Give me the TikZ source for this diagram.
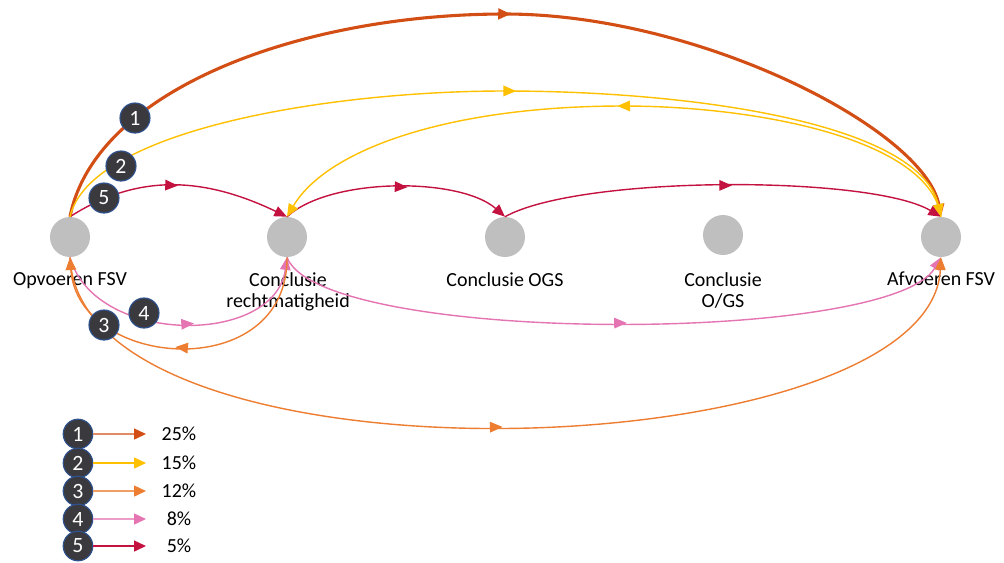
\documentclass[tikz,border=0pt]{standalone}
\usepackage{fontspec}
\setmainfont{Carlito}
\usetikzlibrary{
    arrows.meta,
    decorations.markings,
    positioning
}
\definecolor{stageGray}{RGB}{191, 191, 191}
\definecolor{badgeDark}{RGB}{58, 58, 62}
\definecolor{badgeBlue}{RGB}{47, 82, 143}
\definecolor{textBlack}{RGB}{0, 0, 0}
\definecolor{flowRust}{RGB}{210, 78, 20}
\definecolor{flowYellow}{RGB}{255, 192, 0}
\definecolor{flowOrange}{RGB}{237, 125, 49}
\definecolor{flowPink}{RGB}{228, 116, 178}
\definecolor{flowCrimson}{RGB}{196, 18, 64}
\tikzset{
    >={Triangle[length=9pt, width=7.5pt]},
    stage/.style={
        circle,
        fill=stageGray,
        minimum size=1cm,
        inner sep=0pt
    },
    stageText/.style={
        font=\fontsize{14.2}{15}\selectfont,
        text=textBlack,
        align=center,
        anchor=north,
        inner sep=0pt
    },
    badge/.style={
        circle,
        fill=badgeDark,
        draw=badgeBlue,
        line width=0.8pt,
        minimum size=0.75cm,
        inner sep=0pt,
        text=white,
        font=\fontsize{15.5}{16}\selectfont
    },
    keyText/.style={
        font=\fontsize{14.2}{15}\selectfont,
        text=textBlack,
        inner sep=0pt
    },
    flow/.style={
        line width=1pt,
        ->
    },
    keyLine/.style={
        line width=1pt
    },
    midtip/.style={
        postaction={decorate},
        decoration={markings, mark=at position #1 with {\arrow{>}}}
    }
}
\begin{document}
\begin{tikzpicture}[x=0.025cm, y=-0.025cm]
    \useasboundingbox (0,0) rectangle (1004,562);

    % Stages
    \node[stage] (opv) at (70,237) {};
    \node[stage] (recht) at (287,237) {};
    \node[stage] (ogs) at (505,237) {};
    \node[stage] (ogs2) at (723,235) {};
    \node[stage] (afv) at (941,237) {};

    \node[stageText] (opvText) at (70,272) {Opvoeren FSV};
    \node[stageText] (rechtText) at (288,272) {Conclusie\\rechtmatigheid};
    \node[stageText] (ogsText) at (505,272) {Conclusie OGS};
    \node[stageText] (ogs2Text) at (723,272) {Conclusie\\O/GS};
    \node[stageText] (afvText) at (941,272) {Afvoeren FSV};

    % Route 4 (below)
    \draw[flow, flowPink, midtip=0.55] (opv.south) .. controls (95,346) and (275,346) .. (recht.south);
    \draw[flow, flowPink, midtip=0.52] (recht.south) .. controls (320,345) and (890,345) .. (afv.south);

    % Route 3 (below)
    \draw[flow, flowOrange, midtip=0.52] (recht.south) .. controls (288,385) and (78,370) .. (opv.south);
    \draw[flow, flowOrange, midtip=0.5] (opv.south) .. controls (80,497) and (930,470) .. (afv.south);

    % Route 5 (top, short hops)
    \draw[flow, flowCrimson, midtip=0.5] (opv.north) .. controls (135,175) and (200,175) .. (recht.north);
    \draw[flow, flowCrimson, midtip=0.55] (recht.north) .. controls (330,177) and (460,177) .. (ogs.north);
    \draw[flow, flowCrimson, midtip=0.52] (ogs.north) .. controls (580,175) and (870,175) .. (afv.north);

    % Route 1 (top, direct)
    \draw[flow, flowRust, line width=2.2pt, midtip=0.51] (opv.north) .. controls (95,90) and (300,14) .. (505,14) .. controls (700,14) and (925,130) .. (afv.north);

    % Route 2 (top, with return)
    \draw[flow, flowYellow, midtip=0.51] (opv.north) .. controls (90,130) and (330,91) .. (504,91) .. controls (700,91) and (920,125) .. (afv.north);
    \draw[flow, flowYellow, midtip=0.5] (afv.north) .. controls (930,140) and (760,106) .. (623,106) .. controls (450,106) and (327,149) .. (recht.north);

    % Route badges
    \node[badge] (b1) at (135,118) {1};
    \node[badge] (b2) at (121,166) {2};
    \node[badge] (b5) at (104,198) {5};
    \node[badge] (b4) at (144,313) {4};
    \node[badge] (b3) at (104,325) {3};

    % Legend
    \node[badge, minimum size=0.74cm] (key1) at (78,434) {1};
    \node[badge, minimum size=0.74cm] (key2) at (78,463) {2};
    \node[badge, minimum size=0.74cm] (key3) at (78,491) {3};
    \node[badge, minimum size=0.74cm] (key4) at (78,519) {4};
    \node[badge, minimum size=0.74cm] (key5) at (78,546) {5};

    \coordinate (key1End) at (146,434);
    \coordinate (key2End) at (146,463);
    \coordinate (key3End) at (146,491);
    \coordinate (key4End) at (146,519);
    \coordinate (key5End) at (146,546);

    \draw[keyLine, flowRust!65, -{Triangle[length=8.5pt, width=7.8pt, color=flowRust]}] (key1) -- (key1End);
    \draw[keyLine, flowYellow, -{Triangle[length=8.5pt, width=7.8pt, color=flowYellow]}] (key2) -- (key2End);
    \draw[keyLine, flowOrange!75, -{Triangle[length=8.5pt, width=7.8pt, color=flowOrange]}] (key3) -- (key3End);
    \draw[keyLine, flowPink!70, -{Triangle[length=8.5pt, width=7.8pt, color=flowPink]}] (key4) -- (key4End);
    \draw[keyLine, flowCrimson, -{Triangle[length=8.5pt, width=7.8pt, color=flowCrimson]}] (key5) -- (key5End);

    \node[keyText] (key1Text) at (179,434) {25\%};
    \node[keyText] (key2Text) at (179,463) {15\%};
    \node[keyText] (key3Text) at (179,491) {12\%};
    \node[keyText] (key4Text) at (179,519) {8\%};
    \node[keyText] (key5Text) at (179,546) {5\%};
\end{tikzpicture}
\end{document}
